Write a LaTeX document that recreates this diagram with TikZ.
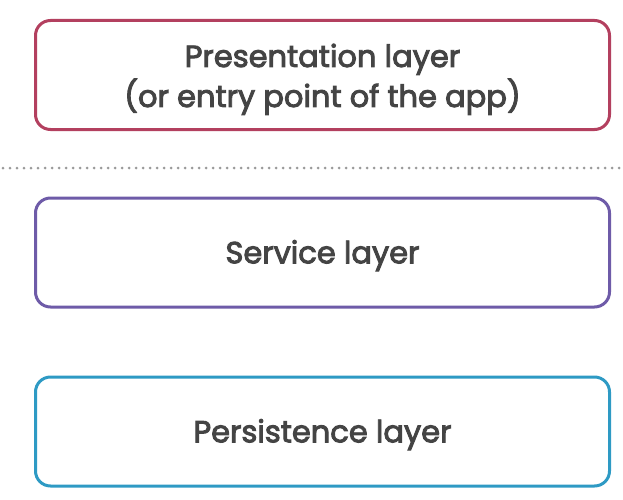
\documentclass[tikz,border=0pt]{standalone}
\usepackage{fontspec}
\setmainfont{Poppins}
\newfontfamily\layerfont[FakeBold=3]{Poppins}
\usepackage{xcolor}
\usetikzlibrary{positioning}
\definecolor{presred}{HTML}{B3405F}
\definecolor{servpurple}{HTML}{6E5BA8}
\definecolor{persblue}{HTML}{2E9AC4}
\definecolor{labelgray}{HTML}{444444}
\definecolor{dotgray}{HTML}{9A9A9A}
\tikzset{
    layer/.style={
        rectangle,
        draw,
        line width=3pt,
        rounded corners=15pt,
        minimum width=574pt,
        minimum height=109pt,
        fill=white,
        align=center,
        text=labelgray,
        text height=21.6pt,
        text depth=0pt,
        font=\layerfont\fontsize{30.5}{40}\selectfont
    },
    divider/.style={
        draw=dotgray,
        line width=3pt,
        line cap=round,
        dash pattern=on 0pt off 7pt
    }
}
\begin{document}
\begin{tikzpicture}[x=1pt,y=1pt]
\useasboundingbox (0,0) rectangle (623,499);

\node[layer, draw=presred, text height=64pt] (pres) at (322.5,424) {Presentation layer\\(or entry point of the app)};
\node[layer, draw=servpurple] (serv) at (322.5,246.5) {Service layer};
\node[layer, draw=persblue] (pers) at (322.5,67.5) {Persistence layer};

\coordinate (divl) at (3,331);
\coordinate (divr) at (621,331);
\draw[divider] (divl) -- (divr);

\end{tikzpicture}
\end{document}
